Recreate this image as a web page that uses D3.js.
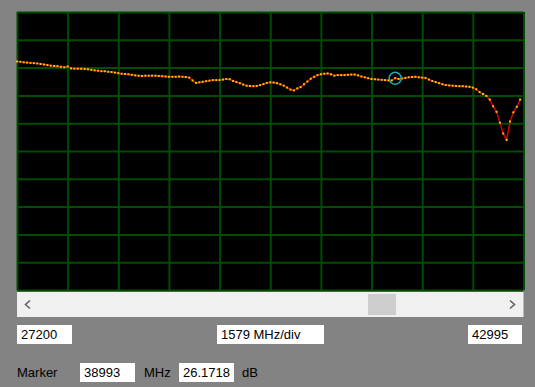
<!DOCTYPE html>
<html>
<head>
<meta charset="utf-8">
<script src="https://cdn.jsdelivr.net/npm/d3@7"></script>
<style>
  body { margin: 0; background: #838383; }
  svg { display: block; }
  .grid line { stroke: #004c00; stroke-width: 2; }
  .grid path { display: none; }
  text { font-family: "Liberation Sans", Arial, sans-serif; font-size: 13px; fill: #000; }
</style>
</head>
<body>
<div id="chart"></div>
<script>
// sweep settings
var freqStart = 27200;
var freqStop = 42995;
var freqStep = 105.3;
var gridDivs = 10;
var dbRange = [-50, 50];

// trace values in dB, one per sweep point
var traceDb = [
  32.2, 32.1, 31.9, 31.8, 31.7, 31.6, 31.5, 31.3, 31.1, 30.9,
  30.7, 30.6, 30.5, 30.3, 30.1, 30.4, 29.7, 29.6, 29.6, 29.6,
  29.5, 29.4, 29.2, 29.0, 28.9, 28.7, 28.7, 28.5, 28.4, 28.2,
  28.0, 27.8, 27.7, 27.6, 27.4, 27.2, 27.1, 27.0, 27.1, 27.1,
  27.1, 27.1, 27.0, 26.9, 26.8, 26.7, 26.7, 26.7, 26.8, 26.7,
  26.6, 26.4, 25.4, 24.5, 24.7, 24.9, 25.1, 25.3, 25.5, 25.5,
  25.5, 25.7, 25.9, 25.8, 25.2, 24.8, 24.4, 23.9, 23.5, 23.4,
  23.3, 23.4, 23.7, 24.1, 24.5, 24.7, 24.6, 24.4, 24.0, 23.5,
  22.8, 22.1, 21.8, 22.5, 23.0, 24.0, 25.0, 26.0, 26.7, 27.3,
  27.6, 27.8, 27.9, 27.6, 27.1, 27.3, 27.3, 27.3, 27.4, 27.5,
  27.5, 27.2, 26.8, 26.5, 26.2, 25.9, 25.8, 25.7, 25.6, 25.5,
  25.4, 25.4, 26.2, 25.9, 26.1, 26.3, 26.5, 26.6, 26.7, 26.5,
  26.4, 26.3, 25.7, 25.2, 24.8, 24.4, 24.0, 23.7, 23.6, 23.5,
  23.4, 23.3, 23.3, 23.2, 23.1, 22.8, 22.2, 21.2, 20.5, 19.8,
  18.5, 16.1, 14.1, 10.2, 6.3, 4.0, 10.6, 13.9, 15.9, 18.5
];

var markerFreq = 38993;
var markerDb = 26.1718;

var width = 535;
var height = 387;
var plot = { left: 17, top: 12, right: 523.5, bottom: 290 };

var svg = d3.select("#chart")
  .append("svg")
  .attr("width", width)
  .attr("height", height);

var x = d3.scaleLinear().domain([freqStart, freqStop]).range([plot.left, plot.right]);
var y = d3.scaleLinear().domain(dbRange).range([plot.bottom, plot.top]);

svg.append("rect")
  .attr("x", plot.left)
  .attr("y", plot.top)
  .attr("width", plot.right - plot.left)
  .attr("height", plot.bottom - plot.top)
  .attr("fill", "#000");

var xTicks = d3.range(gridDivs + 1).map(function(i) { return freqStart + i * (freqStop - freqStart) / gridDivs; });
var yTicks = d3.range(gridDivs + 1).map(function(i) { return dbRange[0] + i * (dbRange[1] - dbRange[0]) / gridDivs; });

svg.append("g")
  .attr("class", "grid")
  .attr("transform", "translate(0," + plot.bottom + ")")
  .call(d3.axisBottom(x).tickValues(xTicks).tickSize(-(plot.bottom - plot.top)).tickFormat(""));

svg.append("g")
  .attr("class", "grid")
  .attr("transform", "translate(" + plot.left + ",0)")
  .call(d3.axisLeft(y).tickValues(yTicks).tickSize(-(plot.right - plot.left)).tickFormat(""));

var pts = traceDb.map(function(v, i) { return { f: freqStart + i * freqStep, db: v }; });

var line = d3.line()
  .x(function(d) { return x(d.f); })
  .y(function(d) { return y(d.db); });

svg.append("path")
  .datum(pts)
  .attr("d", line)
  .attr("fill", "none")
  .attr("stroke", "#d00000")
  .attr("stroke-width", 1.5);

svg.selectAll(".dot")
  .data(pts)
  .enter().append("rect")
    .attr("class", "dot")
    .attr("x", function(d) { return x(d.f) - 1; })
    .attr("y", function(d) { return y(d.db) - 1; })
    .attr("width", 2)
    .attr("height", 2)
    .attr("fill", "#ecc600");

// marker
svg.append("circle")
  .attr("cx", x(markerFreq))
  .attr("cy", y(markerDb))
  .attr("r", 6)
  .attr("fill", "none")
  .attr("stroke", "#1aaeb8")
  .attr("stroke-width", 1.5);

// scrollbar
var sb = { top: 292, bottom: 317 };
svg.append("rect")
  .attr("x", plot.left)
  .attr("y", sb.top)
  .attr("width", plot.right - plot.left)
  .attr("height", sb.bottom - sb.top)
  .attr("fill", "#f0f0f0");

svg.append("rect")
  .attr("x", 368)
  .attr("y", sb.top + 2)
  .attr("width", 28)
  .attr("height", sb.bottom - sb.top - 4)
  .attr("fill", "#cdcdcd");

svg.append("path")
  .attr("d", "M30,300.5 L25.5,304.5 L30,308.5")
  .attr("fill", "none")
  .attr("stroke", "#606060")
  .attr("stroke-width", 1.6);

svg.append("path")
  .attr("d", "M510,300.5 L514.5,304.5 L510,308.5")
  .attr("fill", "none")
  .attr("stroke", "#606060")
  .attr("stroke-width", 1.6);

// value boxes
function box(x0, y0, w, label) {
  svg.append("rect")
    .attr("x", x0)
    .attr("y", y0)
    .attr("width", w)
    .attr("height", 19)
    .attr("fill", "#fff");
  svg.append("text")
    .attr("x", x0 + 4)
    .attr("y", y0 + 14)
    .text(label);
}

box(17, 325, 55, String(freqStart));
box(217, 325, 107, Math.floor((freqStop - freqStart) / gridDivs) + " MHz/div");
box(468, 325, 54, String(freqStop));

svg.append("text").attr("x", 17).attr("y", 377).text("Marker");
box(80, 363, 55, String(markerFreq));
svg.append("text").attr("x", 144).attr("y", 377).text("MHz");
box(179, 363, 55, markerDb.toFixed(4));
svg.append("text").attr("x", 242).attr("y", 377).text("dB");
</script>
</body>
</html>
